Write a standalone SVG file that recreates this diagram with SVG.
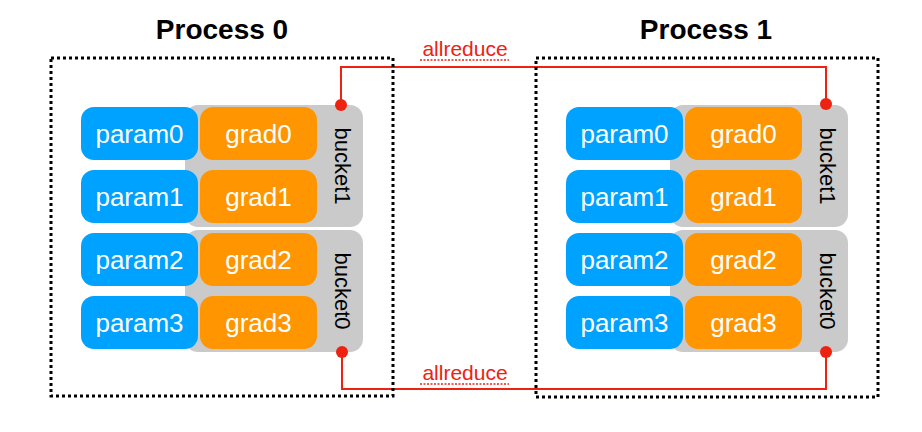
<svg xmlns="http://www.w3.org/2000/svg" width="922" height="432" viewBox="0 0 922 432">
  <style>
    .title { font-family: "Liberation Sans", Arial, sans-serif; font-weight: bold; font-size: 28px; fill: #000; text-anchor: middle; }
    .frame { fill: none; stroke: #000; stroke-width: 3; stroke-dasharray: 3 3; }
    .bucket { fill: #CACACA; }
    .param { fill: #00A2FF; }
    .grad { fill: #FF9500; }
    .lbl { font-family: "Liberation Sans", Arial, sans-serif; font-size: 26px; fill: #fff; text-anchor: middle; }
    .blbl { font-family: "Liberation Sans", Arial, sans-serif; font-size: 22px; fill: #000; text-anchor: middle; dominant-baseline: central; }
    .wire { fill: none; stroke: #EE2211; stroke-width: 2; }
    .dot { fill: #EE2211; }
    .ar { font-family: "Liberation Sans", Arial, sans-serif; font-size: 21px; fill: #EE2211; text-anchor: middle; }
    .squig { stroke: #EE2211; stroke-width: 1.5; stroke-dasharray: 2 1.5; }
  </style>
  <defs>
    <!-- one process: two buckets with four param/grad pairs -->
    <g id="proc">
      <rect class="bucket" x="185" y="105" width="178" height="122" rx="13"/>
      <rect class="bucket" x="185" y="230" width="178" height="122" rx="13"/>
      <rect class="param" x="81" y="107" width="117" height="53" rx="13"/>
      <rect class="param" x="81" y="170" width="117" height="53" rx="13"/>
      <rect class="param" x="81" y="233" width="117" height="53" rx="13"/>
      <rect class="param" x="81" y="296" width="117" height="53" rx="13"/>
      <rect class="grad" x="200" y="107" width="117" height="53" rx="13"/>
      <rect class="grad" x="200" y="170" width="117" height="53" rx="13"/>
      <rect class="grad" x="200" y="233" width="117" height="53" rx="13"/>
      <rect class="grad" x="200" y="296" width="117" height="53" rx="13"/>
      <text class="lbl" x="139.5" y="143">param0</text>
      <text class="lbl" x="139.5" y="206">param1</text>
      <text class="lbl" x="139.5" y="269">param2</text>
      <text class="lbl" x="139.5" y="332">param3</text>
      <text class="lbl" x="258.5" y="143">grad0</text>
      <text class="lbl" x="258.5" y="206">grad1</text>
      <text class="lbl" x="258.5" y="269">grad2</text>
      <text class="lbl" x="258.5" y="332">grad3</text>
      <text class="blbl" transform="translate(342 166) rotate(90)">bucket1</text>
      <text class="blbl" transform="translate(342 291) rotate(90)">bucket0</text>
    </g>
  </defs>

  <g id="process0">
    <text class="title" x="222" y="39">Process 0</text>
    <use href="#proc"/>
  </g>

  <g id="process1">
    <text class="title" x="706" y="39">Process 1</text>
    <use href="#proc" transform="translate(485 0)"/>
  </g>

  <g id="connectors">
    <path class="wire" d="M341 105 V67 H826 V104"/>
    <path class="wire" d="M342 352 V389 H826 V352"/>
    <circle class="dot" cx="341" cy="105" r="6"/>
    <circle class="dot" cx="826" cy="104" r="6"/>
    <circle class="dot" cx="342" cy="352" r="6"/>
    <circle class="dot" cx="826" cy="352" r="6"/>
    <text class="ar" x="465" y="56">allreduce</text>
    <line class="squig" x1="420" y1="60" x2="509" y2="60"/>
    <text class="ar" x="465" y="380">allreduce</text>
    <line class="squig" x1="420" y1="384" x2="509" y2="384"/>
  </g>

  <g id="frames">
    <rect class="frame" x="51" y="58" width="342" height="338"/>
    <rect class="frame" x="536" y="58" width="342" height="339"/>
  </g>
</svg>
